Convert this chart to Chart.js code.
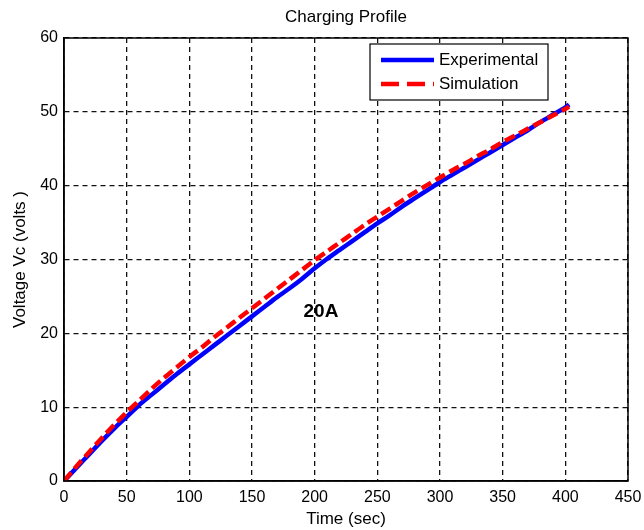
<!DOCTYPE html>
<html>
<head>
<meta charset="utf-8">
<script src="https://cdn.jsdelivr.net/npm/chart.js@4.4.1/dist/chart.umd.min.js"></script>
<style>
  body { margin: 0; background: #fff; }
  #wrap { width: 644px; height: 530px; }
</style>
</head>
<body>
<div id="wrap"><canvas id="chargeChart" width="644" height="530"></canvas></div>
<script>
// Charging profile - experimental vs simulation
const timeSec = [0, 10, 20, 30, 40, 50, 60, 70, 80, 90, 100, 110, 120, 130, 140, 150, 160, 170, 180, 190, 200,
  210, 220, 230, 240, 250, 260, 270, 280, 290, 300, 310, 320, 330, 340, 350, 360, 370, 380, 390, 400, 403];
const expVolts = [0, 1.8, 3.6, 5.4, 7.1, 8.7, 10.3, 11.7, 13.1, 14.5, 15.8, 17.1, 18.4, 19.7, 21.0, 22.3, 23.6, 24.9, 26.1, 27.4, 28.8,
  30.1, 31.3, 32.5, 33.7, 34.9, 36.0, 37.2, 38.3, 39.4, 40.5, 41.5, 42.5, 43.5, 44.5, 45.5, 46.5, 47.5, 48.6, 49.6, 50.6, 51.0];
const simVolts = [0, 2.0, 3.9, 5.8, 7.6, 9.3, 10.9, 12.5, 14.0, 15.4, 16.8, 18.1, 19.5, 20.8, 22.1, 23.4, 24.7, 26.0, 27.3, 28.6, 29.9,
  31.1, 32.3, 33.5, 34.7, 35.8, 36.9, 38.0, 39.1, 40.1, 41.1, 42.1, 43.0, 44.0, 44.9, 45.9, 46.8, 47.7, 48.6, 49.5, 50.4, 50.7];
const xTicks = [0, 50, 100, 150, 200, 250, 300, 350, 400, 450];
const yTicks = [0, 10, 20, 30, 40, 50, 60];
const seriesNames = ['Experimental', 'Simulation'];
const chartTitle = 'Charging Profile';
const note = { x: 205, y: 22.9, text: '20A' };

const FONT = '"Liberation Sans", Arial, sans-serif';

function toPoints(xs, ys){
  return xs.map((x, i) => ({ x: x, y: ys[i] }));
}

// titulo, borde, leyenda y etiqueta 20A
const extras = {
  id: 'extras',
  afterDatasetsDraw(chart){
    const ctx = chart.ctx;
    const a = chart.chartArea;
    ctx.save();
    // borde del area
    ctx.strokeStyle = '#000';
    ctx.lineWidth = 1.5;
    ctx.setLineDash([]);
    ctx.strokeRect(a.left, a.top, a.right - a.left, a.bottom - a.top);

    // titulo
    ctx.fillStyle = '#000';
    ctx.font = '17px ' + FONT;
    ctx.textAlign = 'center';
    ctx.textBaseline = 'middle';
    ctx.fillText(chartTitle, (a.left + a.right) / 2, 17);

    // etiqueta
    const sx = chart.scales.x, sy = chart.scales.y;
    ctx.font = 'bold 19px ' + FONT;
    ctx.fillText(note.text, sx.getPixelForValue(note.x), sy.getPixelForValue(note.y));

    // leyenda
    const bx = a.right - 258, by = a.top + 6, bw = 178, bh = 56;
    ctx.fillStyle = '#fff';
    ctx.fillRect(bx, by, bw, bh);
    ctx.strokeStyle = '#000';
    ctx.lineWidth = 1.2;
    ctx.strokeRect(bx, by, bw, bh);
    chart.data.datasets.forEach((ds, i) => {
      const ly = by + 16 + i * 24;
      ctx.strokeStyle = ds.borderColor;
      ctx.lineWidth = 4.5;
      ctx.setLineDash(i === 1 ? [18, 8] : []);
      ctx.beginPath();
      ctx.moveTo(bx + 11, ly);
      ctx.lineTo(bx + 64, ly);
      ctx.stroke();
      ctx.setLineDash([]);
      ctx.fillStyle = '#000';
      ctx.font = '17px ' + FONT;
      ctx.textAlign = 'left';
      ctx.fillText(ds.label, bx + 69, ly);
    });
    ctx.restore();
  }
};

const gridOpts = { color: '#111', lineWidth: 1.3, drawTicks: false };
const borderOpts = { display: true, color: '#000', width: 1.5, dash: [5, 4] };

new Chart(document.getElementById('chargeChart'), {
  type: 'line',
  data: {
    datasets: [
      { label: seriesNames[0], data: toPoints(timeSec, expVolts), borderColor: '#0000ff', borderWidth: 4.5,
        pointRadius: 0, tension: 0.3, order: 2 },
      { label: seriesNames[1], data: toPoints(timeSec, simVolts), borderColor: '#ff0000', borderWidth: 4.5,
        borderDash: [11, 5], pointRadius: 0, tension: 0.3, order: 1 }
    ]
  },
  options: {
    responsive: false,
    animation: false,
    layout: { padding: { left: 0, right: 16, top: 38, bottom: 0 } },
    plugins: { legend: { display: false }, title: { display: false }, tooltip: { enabled: false } },
    scales: {
      x: {
        type: 'linear', min: 0, max: 450,
        afterBuildTicks: s => { s.ticks = xTicks.map(v => ({ value: v })); },
        afterFit: s => { s.height = 49; s.paddingLeft = 0; s.paddingRight = 0; },
        grid: gridOpts,
        border: borderOpts,
        ticks: { color: '#000', padding: 7, font: { family: FONT, size: 16 }, maxRotation: 0 },
        title: { display: true, text: 'Time (sec)', color: '#000', font: { family: FONT, size: 17 }, padding: { top: 3, bottom: 0 } }
      },
      y: {
        type: 'linear', min: 0, max: 60,
        afterBuildTicks: s => { s.ticks = yTicks.map(v => ({ value: v })); },
        afterFit: s => { s.width = 64; s.paddingTop = 0; s.paddingBottom = 0; },
        grid: gridOpts,
        border: borderOpts,
        ticks: { color: '#000', padding: 6, font: { family: FONT, size: 16 } },
        title: { display: true, text: 'Voltage Vc (volts )', color: '#000', font: { family: FONT, size: 17 }, padding: { top: 10, bottom: 0 } }
      }
    }
  },
  plugins: [extras]
});
</script>
</body>
</html>
